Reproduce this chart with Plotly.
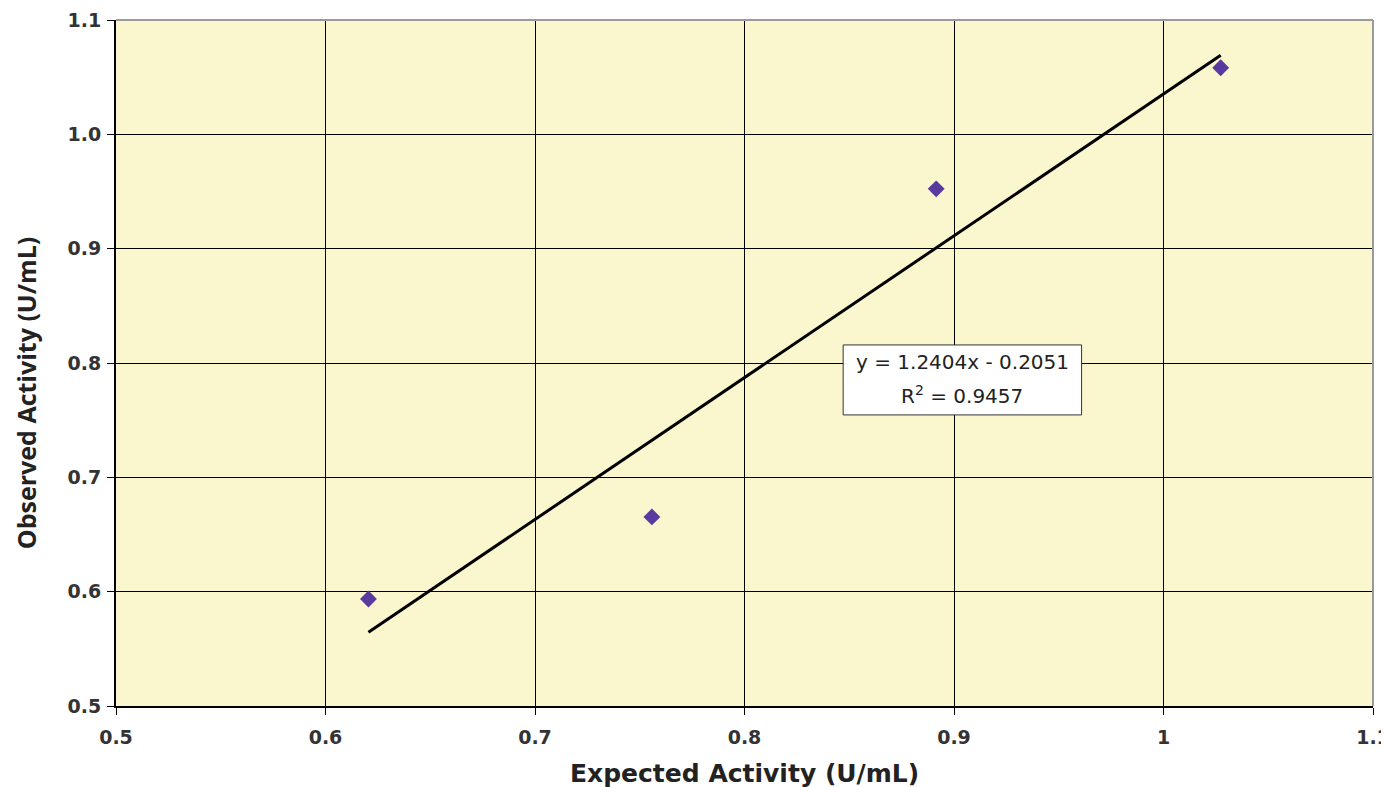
import plotly.graph_objects as go

expected = [0.6205, 0.7558, 0.8915, 1.0273]
observed = [0.5936, 0.6654, 0.9523, 1.0582]
slope = 1.2404
intercept = -0.2051
r_squared = 0.9457
x_ticks = [0.5, 0.6, 0.7, 0.8, 0.9, 1.0, 1.1]
x_tick_labels = ["0.5", "0.6", "0.7", "0.8", "0.9", "1", "1.1"]
y_ticks = [0.5, 0.6, 0.7, 0.8, 0.9, 1.0, 1.1]
y_tick_labels = ["0.5", "0.6", "0.7", "0.8", "0.9", "1.0", "1.1"]

x_fit = [min(expected), max(expected)]
y_fit = [slope * v + intercept for v in x_fit]

fig = go.Figure()
fig.add_trace(go.Scatter(x=x_fit, y=y_fit, mode="lines",
                         line=dict(color="black", width=3), showlegend=False))
fig.add_trace(go.Scatter(x=expected, y=observed, mode="markers",
                         marker=dict(symbol="diamond", size=13, color="#5A3A9E"),
                         showlegend=False))

tick_font = dict(family="DejaVu Sans", size=19, weight="bold", color="#333")
fig.update_layout(
    width=1381, height=779,
    margin=dict(l=108, r=16, t=12, b=81, autoexpand=False),
    paper_bgcolor="white",
    plot_bgcolor="#FAF6CD",
    font=dict(family="DejaVu Sans", color="#222"),
    xaxis=dict(range=[0.5, 1.1], tickvals=x_ticks, ticktext=x_tick_labels,
               showgrid=True, gridcolor="black", gridwidth=1,
               showline=True, linecolor="black", linewidth=2,
               ticks="outside", ticklen=7, tickcolor="black",
               ticklabelstandoff=6, ticklabeloverflow="allow",
               tickfont=tick_font, automargin=False, zeroline=False),
    yaxis=dict(range=[0.5, 1.1], tickvals=y_ticks, ticktext=y_tick_labels,
               showgrid=True, gridcolor="black", gridwidth=1,
               showline=True, linecolor="black", linewidth=2,
               ticks="outside", ticklen=7, tickcolor="black",
               ticklabelstandoff=2, ticklabeloverflow="allow",
               tickfont=tick_font, automargin=False, zeroline=False),
)
fig.add_shape(type="line", xref="paper", yref="paper", x0=0, x1=1, y0=1, y1=1,
              line=dict(color="#9A9A9A", width=2))
fig.add_shape(type="line", xref="paper", yref="paper", x0=1, x1=1, y0=0, y1=1,
              line=dict(color="#9A9A9A", width=2))
# equation box
fig.add_shape(type="rect", xref="x", yref="y", x0=0.8471, x1=0.9609, y0=0.7546, y1=0.8158,
              fillcolor="white", line=dict(color="#333", width=1), layer="above")
fig.add_annotation(x=0.904, y=0.801, xref="x", yref="y", showarrow=False,
                   xanchor="center", yanchor="middle",
                   text=f"y = {slope}x - {abs(intercept)}",
                   font=dict(size=20, color="#222", family="DejaVu Sans"))
fig.add_annotation(x=0.904, y=0.772, xref="x", yref="y", showarrow=False,
                   xanchor="center", yanchor="middle",
                   text=f"R<sup>2</sup> = {r_squared}",
                   font=dict(size=20, color="#222", family="DejaVu Sans"))
fig.add_annotation(x=0.5, y=-0.0977, xref="paper", yref="paper", showarrow=False,
                   xanchor="center", yanchor="middle",
                   text="Expected Activity (U/mL)",
                   font=dict(family="DejaVu Sans", size=25, weight="bold", color="#222"))
fig.add_annotation(x=-0.0716, y=0.456, xref="paper", yref="paper", showarrow=False,
                   xanchor="center", yanchor="middle", textangle=-90,
                   text="Observed Activity (U/mL)",
                   font=dict(family="Open Sans", size=25, weight="bold", color="#222"))
fig.write_html("out.html")
